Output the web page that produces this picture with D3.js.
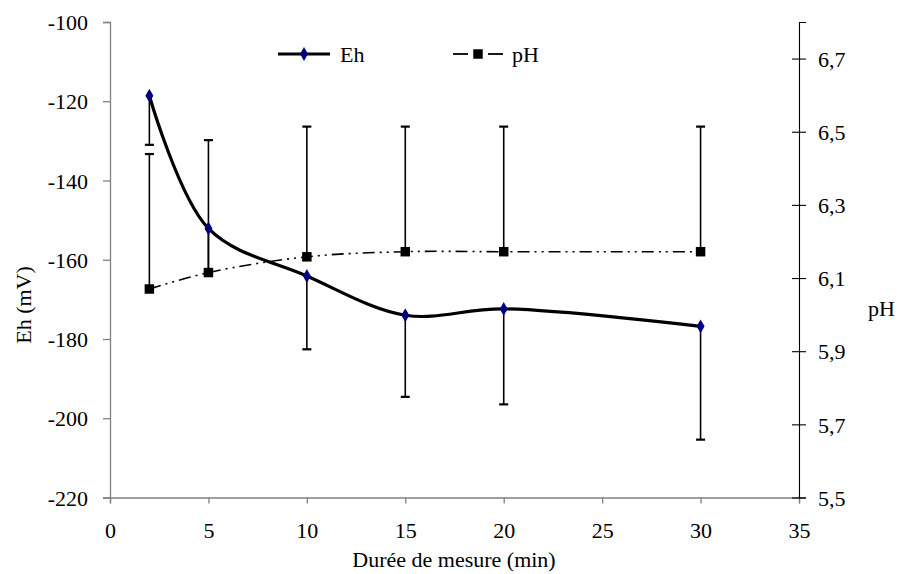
<!DOCTYPE html>
<html><head><meta charset="utf-8">
<script src="https://cdn.jsdelivr.net/npm/d3@7"></script>
<style>body{margin:0;background:#fff}svg{display:block}</style>
</head><body><svg id="c" width="899" height="574"></svg>
<script>
const durations = [2, 5, 10, 15, 20, 30];
const ehValues = [-118.6, -152.1, -164.1, -174.0, -172.4, -176.8];
const ehLower = [-131.0, -163.0, -182.6, -194.6, -196.5, -205.4];
const phValues = [6.07, 6.115, 6.158, 6.172, 6.172, 6.172];
const phUpper = [6.439, 6.477, 6.514, 6.514, 6.514, 6.514];
const xTicks = [0, 5, 10, 15, 20, 25, 30, 35];
const ehTicks = [-100, -120, -140, -160, -180, -200, -220];
const phTicks = [5.5, 5.7, 5.9, 6.1, 6.3, 6.5, 6.7];

const FONT = "'Liberation Serif'";
const FS = 22;
const svg = d3.select("#c");
const L = 110, R = 799, T = 22, B = 497.5;
const x = d3.scaleLinear().domain([0, 35]).range([L, R]);
const yEh = d3.scaleLinear().domain([-220, -100]).range([B, T]);
const yPh = d3.scaleLinear().domain([5.5, 6.8]).range([B, T]);

function styleText(sel) {
  sel.style("font-family", FONT).style("font-size", FS + "px").style("fill", "#000");
}

// axes
const gx = svg.append("g").attr("transform", `translate(0,${B})`)
  .call(d3.axisBottom(x).tickValues(xTicks).tickSize(6).tickPadding(19).tickFormat(d3.format("d")));
gx.selectAll("path,line").attr("stroke", "#808080").attr("stroke-width", 1.3);
styleText(gx.selectAll("text"));

const gl = svg.append("g").attr("transform", `translate(${L},0)`)
  .call(d3.axisLeft(yEh).tickValues(ehTicks).tickSize(7).tickPadding(15).tickFormat(d => d));
gl.selectAll("path,line").attr("stroke", "#808080").attr("stroke-width", 1.3);
styleText(gl.selectAll("text"));
gl.selectAll("text").attr("dy", "0.35em");

const gr = svg.append("g").attr("transform", `translate(${R},0)`)
  .call(d3.axisRight(yPh).tickValues(phTicks).tickSize(7).tickPadding(12).tickFormat(d => d3.format(".1f")(d).replace(".", ",")));
gr.select("path").attr("stroke", "#000").attr("stroke-width", 1.1);
gr.selectAll("line").attr("stroke", "#000").attr("stroke-width", 1.1).attr("x1", -7);
styleText(gr.selectAll("text"));
gr.selectAll("text").attr("dy", "0.35em");

// titles
styleText(svg.append("text").attr("x", 454).attr("y", 567).attr("text-anchor", "middle").text("Durée de mesure (min)"));
styleText(svg.append("text").attr("transform", "translate(31,305) rotate(-90)").attr("text-anchor", "middle").text("Eh (mV)"));
styleText(svg.append("text").attr("x", 868).attr("y", 316).text("pH"));

// error bars
const cap = 4.5;
const eb = svg.append("g").attr("stroke", "#000").attr("stroke-width", 1.6);
durations.forEach((d, i) => {
  const xx = x(d);
  eb.append("line").attr("x1", xx).attr("x2", xx).attr("y1", yPh(phValues[i])).attr("y2", yPh(phUpper[i]));
  eb.append("line").attr("x1", xx - cap).attr("x2", xx + cap).attr("y1", yPh(phUpper[i])).attr("y2", yPh(phUpper[i])).attr("stroke-width", 2.2);
  eb.append("line").attr("x1", xx).attr("x2", xx).attr("y1", yEh(ehValues[i])).attr("y2", yEh(ehLower[i]));
  eb.append("line").attr("x1", xx - cap).attr("x2", xx + cap).attr("y1", yEh(ehLower[i])).attr("y2", yEh(ehLower[i])).attr("stroke-width", 2.2);
});

// pH line
const phLine = d3.line().x((d, i) => x(durations[i])).y(d => yPh(d)).curve(d3.curveCatmullRom.alpha(0.5));
svg.append("path").attr("d", phLine(phValues)).attr("fill", "none").attr("stroke", "#000")
  .attr("stroke-width", 1.6).attr("stroke-dasharray", "12,5,2,5,2,5");

// Eh line
const ehLine = d3.line().x((d, i) => x(durations[i])).y(d => yEh(d)).curve(d3.curveCatmullRom.alpha(0.5));
svg.append("path").attr("d", ehLine(ehValues)).attr("fill", "none").attr("stroke", "#000").attr("stroke-width", 3.2);

// markers
const sq = d3.symbol().type(d3.symbolSquare).size(90);
const dia = d3.symbol().type(d3.symbolDiamond).size(55);
svg.append("g").selectAll("path").data(phValues).join("path")
  .attr("transform", (d, i) => `translate(${x(durations[i])},${yPh(d)})`).attr("d", sq).attr("fill", "#000");
svg.append("g").selectAll("path").data(ehValues).join("path")
  .attr("transform", (d, i) => `translate(${x(durations[i])},${yEh(d)})`).attr("d", dia).attr("fill", "#000080");

// legend
const lg = svg.append("g");
lg.append("line").attr("x1", 278).attr("x2", 330).attr("y1", 54).attr("y2", 54).attr("stroke", "#000").attr("stroke-width", 3.2);
lg.append("path").attr("transform", "translate(304,54)").attr("d", dia).attr("fill", "#000080");
styleText(lg.append("text").attr("x", 340).attr("y", 62).text("Eh"));
lg.append("line").attr("x1", 453).attr("x2", 468).attr("y1", 54).attr("y2", 54).attr("stroke", "#000").attr("stroke-width", 1.8);
lg.append("line").attr("x1", 488).attr("x2", 503).attr("y1", 54).attr("y2", 54).attr("stroke", "#000").attr("stroke-width", 1.8);
lg.append("path").attr("transform", "translate(478,54)").attr("d", sq).attr("fill", "#000");
styleText(lg.append("text").attr("x", 512).attr("y", 62).text("pH"));
</script></body></html>
